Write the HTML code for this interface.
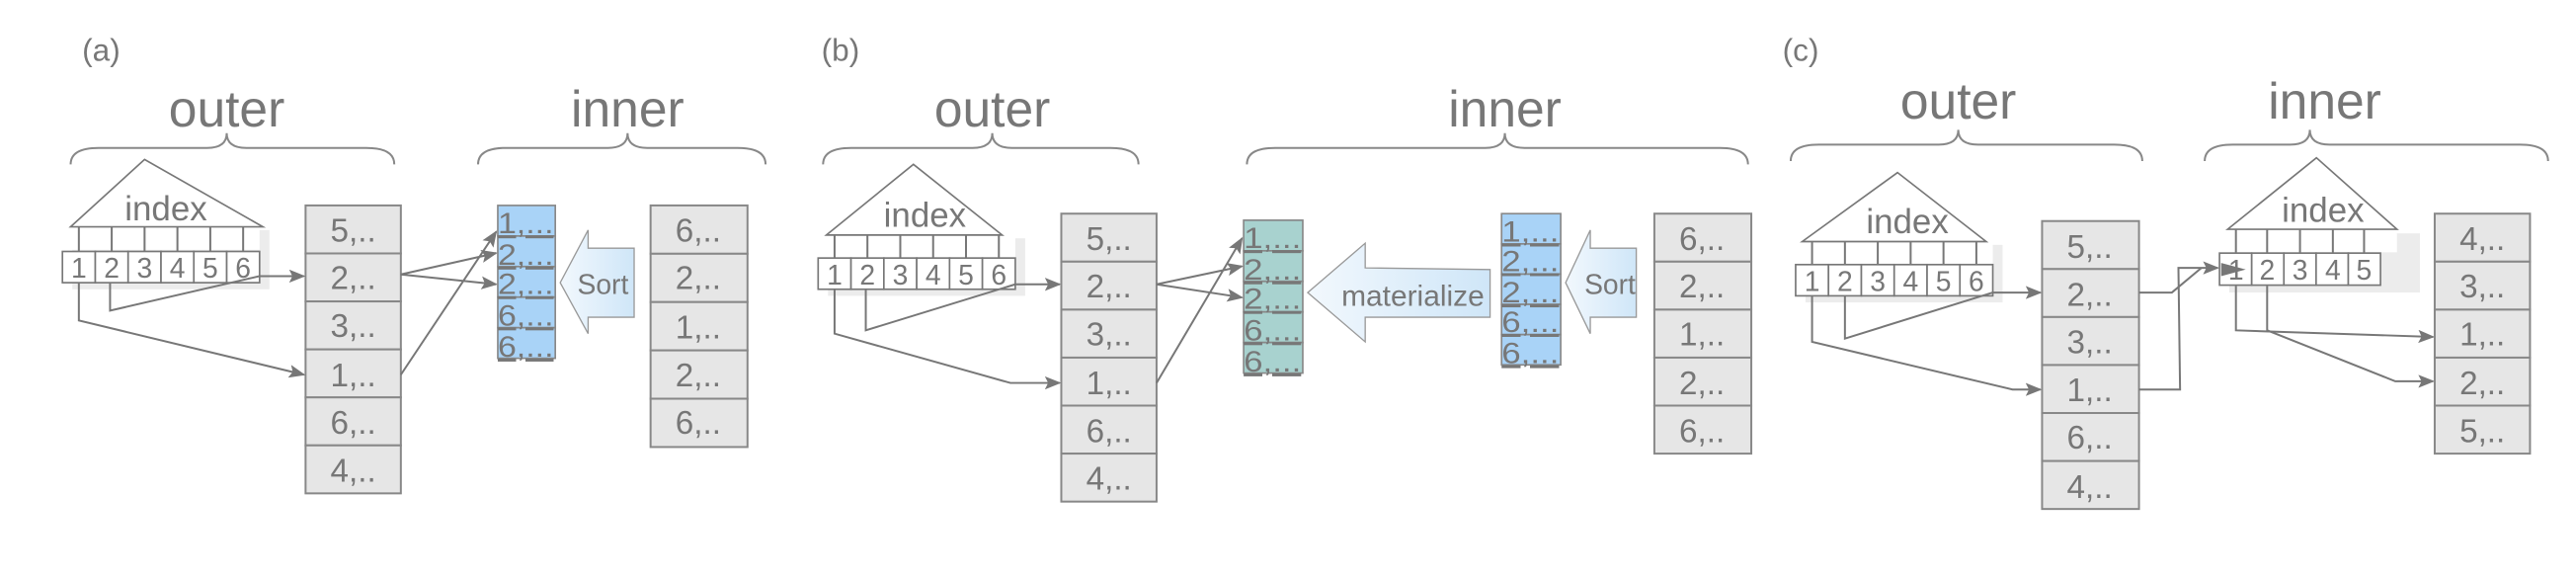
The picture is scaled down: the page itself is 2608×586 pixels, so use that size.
<!DOCTYPE html>
<html><head><meta charset="utf-8"><style>
html,body{margin:0;padding:0;background:#fff;}
svg{display:block;}
text{font-family:"Liberation Sans",sans-serif;fill:#777;}
.c{fill:#e6e6e6;stroke:#888;stroke-width:1.2;}
.b{fill:#a9d3f7;stroke:#888;stroke-width:1;}
.t{fill:#a8d2cf;stroke:#888;stroke-width:1;}
.w{fill:#fff;stroke:#777;stroke-width:1;}
.l{fill:none;stroke:#777;stroke-width:1.2;}
.br{fill:none;stroke:#888;stroke-width:1.2;}
.v{font-size:20px;text-anchor:middle;}
.s{font-size:18px;text-decoration:underline;}
.n{font-size:17px;text-anchor:middle;}
.h{font-size:31px;text-anchor:middle;}
.x{font-size:21px;text-anchor:middle;}
.p{font-size:19px;}
.sh{fill:#ececec;}
</style></head><body>
<svg width="2608" height="586" viewBox="0 0 1568 352.3" preserveAspectRatio="none">
<defs>
<marker id="a" markerWidth="10" markerHeight="8" refX="9" refY="4" orient="auto" markerUnits="userSpaceOnUse"><path d="M0,0 L10,4 L0,8 L2,4 Z" fill="#777"/></marker>
<linearGradient id="g" x1="0" x2="1"><stop offset="0" stop-color="#f2f8fd"/><stop offset="1" stop-color="#cfe6f8"/></linearGradient>
</defs>

<text class="p" x="50" y="37">(a)</text>
<text class="p" x="500" y="37">(b)</text>
<text class="p" x="1085" y="37">(c)</text>
<text class="h" x="138" y="77">outer</text>
<text class="h" x="382" y="77">inner</text>
<text class="h" x="604" y="77">outer</text>
<text class="h" x="916" y="77">inner</text>
<text class="h" x="1192" y="72">outer</text>
<text class="h" x="1415" y="72">inner</text>

<path class="br" d="M43,100 Q43,90 60,90 L126,90 Q138,90 138,81 Q138,90 150,90 L223,90 Q240,90 240,100"/>
<path class="br" d="M291,100 Q291,90 308,90 L370,90 Q382,90 382,81 Q382,90 394,90 L449,90 Q466,90 466,100"/>
<path class="br" d="M501,100 Q501,90 518,90 L592,90 Q604,90 604,81 Q604,90 616,90 L676,90 Q693,90 693,100"/>
<path class="br" d="M759,100 Q759,90 776,90 L904,90 Q916,90 916,81 Q916,90 928,90 L1047,90 Q1064,90 1064,100"/>
<path class="br" d="M1090,98 Q1090,88 1107,88 L1180,88 Q1192,88 1192,79 Q1192,88 1204,88 L1287,88 Q1304,88 1304,98"/>
<path class="br" d="M1342,98 Q1342,88 1359,88 L1394,88 Q1406,88 1406,79 Q1406,88 1418,88 L1534,88 Q1551,88 1551,98"/>

<!-- (a) index -->
<rect class="sh" x="44" y="140" width="120" height="36"/>
<rect x="38" y="138" width="120" height="14" fill="#fff"/>
<path class="w" d="M43,138 L88,97 L160,138 Z"/>
<text class="x" x="101" y="134">index</text>
<path class="l" d="M48,138V153M68,138V153M88,138V153M108,138V153M128,138V153M148,138V153"/>
<rect class="w" x="38" y="153" width="20" height="19"/><rect class="w" x="58" y="153" width="20" height="19"/><rect class="w" x="78" y="153" width="20" height="19"/><rect class="w" x="98" y="153" width="20" height="19"/><rect class="w" x="118" y="153" width="20" height="19"/><rect class="w" x="138" y="153" width="20" height="19"/>
<text class="n" x="48" y="169">1</text><text class="n" x="68" y="169">2</text><text class="n" x="88" y="169">3</text><text class="n" x="108" y="169">4</text><text class="n" x="128" y="169">5</text><text class="n" x="148" y="169">6</text>
<rect class="c" x="186" y="125" width="58" height="29.2"/><rect class="c" x="186" y="154.2" width="58" height="29.2"/><rect class="c" x="186" y="183.4" width="58" height="29.2"/><rect class="c" x="186" y="212.6" width="58" height="29.2"/><rect class="c" x="186" y="241.8" width="58" height="29.2"/><rect class="c" x="186" y="271" width="58" height="29.2"/>
<text class="v" x="215" y="147">5,..</text><text class="v" x="215" y="176">2,..</text><text class="v" x="215" y="205">3,..</text><text class="v" x="215" y="235">1,..</text><text class="v" x="215" y="264">6,..</text><text class="v" x="215" y="293">4,..</text>
<path class="l" d="M158,168 L185,168" marker-end="url(#a)"/>
<path class="l" d="M67,172 L67,189 L158,168"/>
<path class="l" d="M48,172 L48,195 L185,228" marker-end="url(#a)"/>
<path class="l" d="M244,167 L302,154" marker-end="url(#a)"/>
<path class="l" d="M244,167 L302,173" marker-end="url(#a)"/>
<path class="l" d="M244,228 L302,141" marker-end="url(#a)"/>
<rect class="b" x="303" y="125" width="35" height="18.6"/><rect class="b" x="303" y="143.6" width="35" height="18.6"/><rect class="b" x="303" y="162.2" width="35" height="18.6"/><rect class="b" x="303" y="180.8" width="35" height="18.6"/><rect class="b" x="303" y="199.4" width="35" height="18.6"/>
<text class="s" x="303" y="142" textLength="34" lengthAdjust="spacingAndGlyphs">1,...</text><text class="s" x="303" y="161" textLength="34" lengthAdjust="spacingAndGlyphs">2,...</text><text class="s" x="303" y="179" textLength="34" lengthAdjust="spacingAndGlyphs">2,...</text><text class="s" x="303" y="198" textLength="34" lengthAdjust="spacingAndGlyphs">6,...</text><text class="s" x="303" y="217" textLength="34" lengthAdjust="spacingAndGlyphs">6,...</text>
<path d="M386,151 L358,151 L358,140 L341,172 L358,203 L358,193 L386,193 Z" fill="url(#g)" stroke="#999" stroke-width="0.8"/>
<text x="367" y="179" style="font-size:17px;text-anchor:middle">Sort</text>
<rect class="c" x="396" y="125" width="59" height="29.4"/><rect class="c" x="396" y="154.4" width="59" height="29.4"/><rect class="c" x="396" y="183.8" width="59" height="29.4"/><rect class="c" x="396" y="213.2" width="59" height="29.4"/><rect class="c" x="396" y="242.6" width="59" height="29.4"/>
<text class="v" x="425" y="147">6,..</text><text class="v" x="425" y="176">2,..</text><text class="v" x="425" y="206">1,..</text><text class="v" x="425" y="235">2,..</text><text class="v" x="425" y="264">6,..</text>

<!-- (b) -->
<rect class="sh" x="504" y="145" width="120" height="35"/>
<rect x="498" y="143" width="120" height="14" fill="#fff"/>
<path class="w" d="M503,143 L556,100 L610,143 Z"/>
<text class="x" x="563" y="138">index</text>
<path class="l" d="M508,143V157M528,143V157M548,143V157M568,143V157M588,143V157M608,143V157"/>
<rect class="w" x="498" y="157" width="20" height="19"/><rect class="w" x="518" y="157" width="20" height="19"/><rect class="w" x="538" y="157" width="20" height="19"/><rect class="w" x="558" y="157" width="20" height="19"/><rect class="w" x="578" y="157" width="20" height="19"/><rect class="w" x="598" y="157" width="20" height="19"/>
<text class="n" x="508" y="173">1</text><text class="n" x="528" y="173">2</text><text class="n" x="548" y="173">3</text><text class="n" x="568" y="173">4</text><text class="n" x="588" y="173">5</text><text class="n" x="608" y="173">6</text>
<rect class="c" x="646" y="130" width="58" height="29.2"/><rect class="c" x="646" y="159.2" width="58" height="29.2"/><rect class="c" x="646" y="188.4" width="58" height="29.2"/><rect class="c" x="646" y="217.6" width="58" height="29.2"/><rect class="c" x="646" y="246.8" width="58" height="29.2"/><rect class="c" x="646" y="276" width="58" height="29.2"/>
<text class="v" x="675" y="152">5,..</text><text class="v" x="675" y="181">2,..</text><text class="v" x="675" y="210">3,..</text><text class="v" x="675" y="240">1,..</text><text class="v" x="675" y="269">6,..</text><text class="v" x="675" y="298">4,..</text>
<path class="l" d="M618,173 L645,173" marker-end="url(#a)"/>
<path class="l" d="M527,176 L527,201 L618,173"/>
<path class="l" d="M508,176 L508,203 L615,233 L645,233" marker-end="url(#a)"/>
<path class="l" d="M704,173 L756,162" marker-end="url(#a)"/>
<path class="l" d="M704,173 L756,181" marker-end="url(#a)"/>
<path class="l" d="M704,233 L756,145" marker-end="url(#a)"/>
<rect class="t" x="757" y="134" width="36" height="18.6"/><rect class="t" x="757" y="152.6" width="36" height="18.6"/><rect class="t" x="757" y="171.2" width="36" height="18.6"/><rect class="t" x="757" y="189.8" width="36" height="18.6"/><rect class="t" x="757" y="208.4" width="36" height="18.6"/>
<text class="s" x="757" y="151" textLength="35" lengthAdjust="spacingAndGlyphs">1,...</text><text class="s" x="757" y="170" textLength="35" lengthAdjust="spacingAndGlyphs">2,...</text><text class="s" x="757" y="188" textLength="35" lengthAdjust="spacingAndGlyphs">2,...</text><text class="s" x="757" y="207" textLength="35" lengthAdjust="spacingAndGlyphs">6,...</text><text class="s" x="757" y="226" textLength="35" lengthAdjust="spacingAndGlyphs">6,...</text>
<path d="M907,164 L831,163 L831,148 L796,178 L831,208 L831,193 L907,193 Z" fill="url(#g)" stroke="#999" stroke-width="0.8"/>
<text x="860" y="186" style="font-size:18px;text-anchor:middle">materialize</text>
<rect class="b" x="914" y="130" width="36" height="18.4"/><rect class="b" x="914" y="148.4" width="36" height="18.4"/><rect class="b" x="914" y="166.8" width="36" height="18.4"/><rect class="b" x="914" y="185.2" width="36" height="18.4"/><rect class="b" x="914" y="203.6" width="36" height="18.4"/>
<text class="s" x="914" y="147" textLength="35" lengthAdjust="spacingAndGlyphs">1,...</text><text class="s" x="914" y="165" textLength="35" lengthAdjust="spacingAndGlyphs">2,...</text><text class="s" x="914" y="184" textLength="35" lengthAdjust="spacingAndGlyphs">2,...</text><text class="s" x="914" y="202" textLength="35" lengthAdjust="spacingAndGlyphs">6,...</text><text class="s" x="914" y="221" textLength="35" lengthAdjust="spacingAndGlyphs">6,...</text>
<path d="M996,151 L968,151 L968,140 L953,172 L968,203 L968,193 L996,193 Z" fill="url(#g)" stroke="#999" stroke-width="0.8"/>
<text x="980" y="179" style="font-size:17px;text-anchor:middle">Sort</text>
<rect class="c" x="1007" y="130" width="59" height="29.2"/><rect class="c" x="1007" y="159.2" width="59" height="29.2"/><rect class="c" x="1007" y="188.4" width="59" height="29.2"/><rect class="c" x="1007" y="217.6" width="59" height="29.2"/><rect class="c" x="1007" y="246.8" width="59" height="29.2"/>
<text class="v" x="1036" y="152">6,..</text><text class="v" x="1036" y="181">2,..</text><text class="v" x="1036" y="210">1,..</text><text class="v" x="1036" y="240">2,..</text><text class="v" x="1036" y="269">6,..</text>

<!-- (c) -->
<rect class="sh" x="1099" y="149" width="120" height="35"/>
<rect x="1093" y="147" width="120" height="14" fill="#fff"/>
<path class="w" d="M1097,147 L1155,105 L1209,147 Z"/>
<text class="x" x="1161" y="142">index</text>
<path class="l" d="M1103,147V161M1123,147V161M1143,147V161M1163,147V161M1183,147V161M1203,147V161"/>
<rect class="w" x="1093" y="161" width="20" height="19"/><rect class="w" x="1113" y="161" width="20" height="19"/><rect class="w" x="1133" y="161" width="20" height="19"/><rect class="w" x="1153" y="161" width="20" height="19"/><rect class="w" x="1173" y="161" width="20" height="19"/><rect class="w" x="1193" y="161" width="20" height="19"/>
<text class="n" x="1103" y="177">1</text><text class="n" x="1123" y="177">2</text><text class="n" x="1143" y="177">3</text><text class="n" x="1163" y="177">4</text><text class="n" x="1183" y="177">5</text><text class="n" x="1203" y="177">6</text>
<rect class="c" x="1243" y="134.5" width="59" height="29.2"/><rect class="c" x="1243" y="163.7" width="59" height="29.2"/><rect class="c" x="1243" y="192.9" width="59" height="29.2"/><rect class="c" x="1243" y="222.1" width="59" height="29.2"/><rect class="c" x="1243" y="251.3" width="59" height="29.2"/><rect class="c" x="1243" y="280.5" width="59" height="29.2"/>
<text class="v" x="1272" y="157">5,..</text><text class="v" x="1272" y="186">2,..</text><text class="v" x="1272" y="215">3,..</text><text class="v" x="1272" y="244">1,..</text><text class="v" x="1272" y="273">6,..</text><text class="v" x="1272" y="303">4,..</text>
<path class="l" d="M1213,178 L1242,178" marker-end="url(#a)"/>
<path class="l" d="M1123,180 L1123,206 L1213,178"/>
<path class="l" d="M1103,180 L1103,208 L1225,237 L1242,237" marker-end="url(#a)"/>
<path class="l" d="M1302,178 L1322,178 L1340,163"/>
<path class="l" d="M1302,237 L1327,237 L1326,163 L1350,163" marker-end="url(#a)"/>
<rect class="sh" x="1357" y="142" width="116" height="36"/>
<rect x="1351" y="139.5" width="108" height="14" fill="#fff"/>
<path class="w" d="M1356,139.5 L1410,96 L1459,139.5 Z"/>
<text class="x" x="1414" y="135">index</text>
<path class="l" d="M1361,139.5V154M1380,139.5V154M1400,139.5V154M1420,139.5V154M1439,139.5V154"/>
<rect class="w" x="1351" y="154" width="19.6" height="19.5"/><rect class="w" x="1370.6" y="154" width="19.6" height="19.5"/><rect class="w" x="1390.2" y="154" width="19.6" height="19.5"/><rect class="w" x="1409.8" y="154" width="19.6" height="19.5"/><rect class="w" x="1429.4" y="154" width="19.6" height="19.5"/>
<text class="n" x="1361" y="170">1</text><text class="n" x="1380" y="170">2</text><text class="n" x="1400" y="170">3</text><text class="n" x="1420" y="170">4</text><text class="n" x="1439" y="170">5</text>
<path d="M1352,160 L1367,164 L1352,168 Z" fill="#777"/>
<path class="l" d="M1361,174 L1361,201 L1481,205" marker-end="url(#a)"/>
<path class="l" d="M1380,174 L1380,201 L1458,232 L1481,232" marker-end="url(#a)"/>
<rect class="c" x="1482" y="130" width="58" height="29.2"/><rect class="c" x="1482" y="159.2" width="58" height="29.2"/><rect class="c" x="1482" y="188.4" width="58" height="29.2"/><rect class="c" x="1482" y="217.6" width="58" height="29.2"/><rect class="c" x="1482" y="246.8" width="58" height="29.2"/>
<text class="v" x="1511" y="152">4,..</text><text class="v" x="1511" y="181">3,..</text><text class="v" x="1511" y="210">1,..</text><text class="v" x="1511" y="240">2,..</text><text class="v" x="1511" y="269">5,..</text>
</svg>
</body></html>
